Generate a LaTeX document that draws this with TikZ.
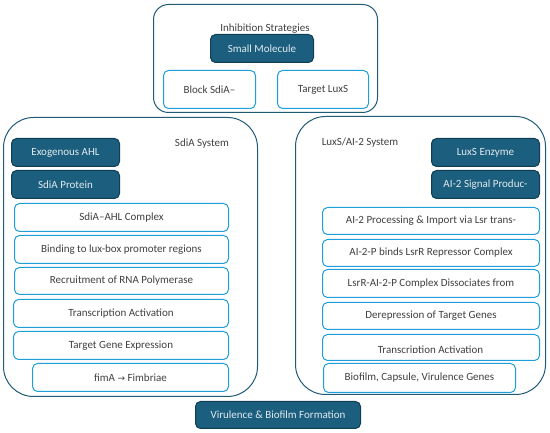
\documentclass[tikz,border=0pt]{standalone}
\usepackage{fontspec}
\setmainfont{Carlito}
\definecolor{lblue}{HTML}{1E9FDC}
\definecolor{dfill}{HTML}{1B5E7E}
\definecolor{dborder}{HTML}{123E54}
\definecolor{dtext}{HTML}{E2EAF0}
\definecolor{tgray}{HTML}{404040}
\definecolor{cborder}{HTML}{1F5A77}
\tikzset{
  base/.style={anchor=north west, inner sep=0pt, align=center, font=\fontsize{11}{13}\selectfont},
  lbox/.style={base, draw=lblue, line width=1pt, rounded corners=5pt, fill=white, text=tgray},
  dbox/.style={base, draw=dborder, line width=1pt, rounded corners=5pt, fill=dfill, text=dtext},
  cont/.style={base, draw=cborder, line width=1pt, text=tgray},
  title/.style={inner sep=0pt, text=tgray, font=\fontsize{11}{13}\selectfont}
}
\newcommand\bx[7]{\node[#1, minimum width=#5pt, minimum height=#6pt] (#2) at (#3,#4) {#7};}
\begin{document}
\begin{tikzpicture}[x=1pt,y=-1pt]
\useasboundingbox (0,0) rectangle (550,433);
% containers
\bx{cont, rounded corners=15pt}{topc}{153}{4}{224}{108}{}
\bx{cont, rounded corners=30pt}{leftc}{3}{117}{254}{279}{}
\bx{cont, rounded corners=30pt}{rightc}{295}{116}{250}{278}{}
% top
\node[title] (inhibt) at (265,29) {Inhibition Strategies};
\bx{dbox}{small}{210}{34}{103}{28}{Small Molecule}
\bx{lbox}{block}{163}{70}{92}{38}{Block SdiA–}
\bx{lbox}{tluxs}{277}{70}{91}{38}{Target LuxS}
% left
\node[title] (sdiat) at (202,144) {SdiA System};
\bx{dbox}{exo}{11}{138}{108}{28}{Exogenous AHL}
\bx{dbox}{sdiap}{11}{170}{108}{28}{SdiA Protein}
\bx{lbox}{cplx}{14}{203}{214}{28}{SdiA–AHL Complex}
\bx{lbox}{bind}{14}{235}{214}{28}{Binding to lux-box promoter regions}
\bx{lbox}{recr}{14}{267}{214}{27}{Recruitment of RNA Polymerase}
\bx{lbox}{trl}{13}{299}{215}{28}{Transcription Activation}
\bx{lbox}{tge}{13}{331}{215}{28}{Target Gene Expression}
\bx{lbox}{fima}{32}{363}{196}{28}{fimA {\fontspec{DejaVu Sans}\fontsize{9}{10}\selectfont →} Fimbriae}
% bottom
\bx{dbox}{vir}{195}{401}{165}{27}{Virulence \& Biofilm Formation}
% right
\node[title] (luxt) at (360,143) {LuxS/AI-2 System};
\bx{dbox}{luxs}{431}{138}{108}{28}{LuxS Enzyme}
\bx{dbox}{ai2}{431}{170}{108}{28}{AI-2 Signal Produc-}
\bx{lbox}{proc}{322}{207}{217}{27}{AI-2 Processing \& Import via Lsr trans-}
\bx{lbox}{binds}{322}{239}{217}{27}{AI-2-P binds LsrR Repressor Complex}
\bx{lbox}{lsrr}{322}{269}{217}{28}{LsrR-AI-2-P Complex Dissociates from}
\bx{lbox}{derep}{322}{302}{217}{27}{Derepression of Target Genes}
\bx{lbox}{trr}{322}{334}{217}{26}{}
\begin{scope}
\clip (322,336) rectangle (539,352.5);
\node[title] (trrt) at (430.5,351) {Transcription Activation};
\end{scope}
\bx{lbox}{bio}{323}{363}{192}{29}{Biofilm, Capsule, Virulence Genes}
\end{tikzpicture}
\end{document}
